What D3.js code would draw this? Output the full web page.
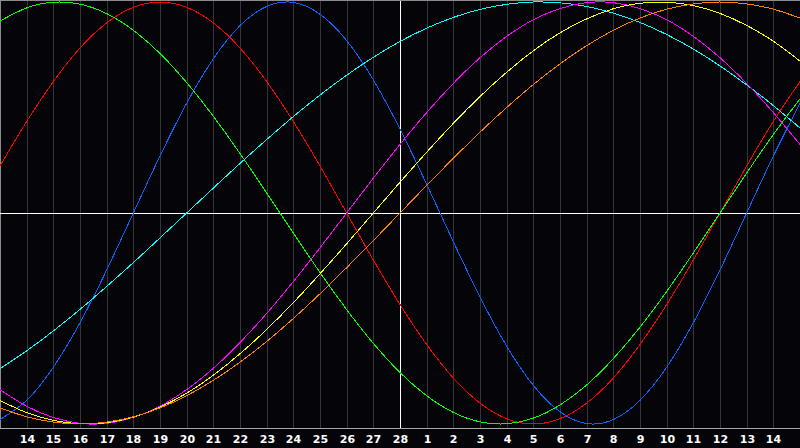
<!DOCTYPE html>
<meta charset="utf-8">
<title>Biorhythm</title>
<style>
    body { margin: 0; background: #050509; }
    svg { display: block; }
    .tick text {
        font: bold 11px "DejaVu Sans", sans-serif;
        fill: #fff;
    }
</style>

<svg width="800" height="448"></svg>
<script src="https://d3js.org/d3.v7.min.js"></script>
<script>

    // one step per day, step 0 = the 13th (left edge), step 30 = the 15th (right edge)
    var dayLabels = [14, 15, 16, 17, 18, 19, 20, 21, 22, 23, 24, 25, 26, 27, 28,
                     1, 2, 3, 4, 5, 6, 7, 8, 9, 10, 11, 12, 13, 14];
    var todayIndex = 15;   // the 28th

    // values in percent, read at each day line
    var physical     = [-97.9, -88.8, -73.1, -52.0, -27.0, 0, 27.0, 52.0, 73.1, 88.8, 97.9, 99.8, 94.2, 81.7, 63.1, 39.8, 13.6, -13.6, -39.8, -63.1, -81.7, -94.2, -99.8, -97.9, -88.8, -73.1, -52.0, -27.0, 0, 27.0, 52.0];
    var emotional    = [22.3, 43.4, 62.3, 78.2, 90.1, 97.5, 100, 97.5, 90.1, 78.2, 62.3, 43.4, 22.3, 0, -22.3, -43.4, -62.3, -78.2, -90.1, -97.5, -100, -97.5, -90.1, -78.2, -62.3, -43.4, -22.3, 0, 22.3, 43.4, 62.3];
    var intellectual = [91.0, 97.2, 99.9, 99.0, 94.5, 86.6, 75.6, 61.8, 45.8, 28.2, 9.5, -9.5, -28.2, -45.8, -61.8, -75.6, -86.6, -94.5, -99.0, -99.9, -97.2, -91.0, -81.5, -69.0, -54.1, -37.2, -18.9, 0, 18.9, 37.2, 54.1];
    var intuitive    = [-83.7, -91.6, -96.9, -99.7, -99.7, -96.9, -91.6, -83.7, -73.6, -61.4, -47.6, -32.5, -16.5, 0, 16.5, 32.5, 47.6, 61.4, 73.6, 83.7, 91.6, 96.9, 99.7, 99.7, 96.9, 91.6, 83.7, 73.6, 61.4, 47.6, 32.5];
    var aesthetic    = [-88.9, -94.6, -98.3, -99.9, -99.4, -96.8, -92.0, -85.4, -76.9, -66.7, -55.2, -42.5, -28.8, -14.6, 0, 14.6, 28.8, 42.5, 55.2, 66.7, 76.9, 85.4, 92.0, 96.8, 99.4, 99.9, 98.3, 94.6, 88.9, 81.4, 72.0];
    var awareness    = [-92.4, -96.6, -99.1, -100, -99.1, -96.6, -92.4, -86.6, -79.3, -70.7, -60.9, -50.0, -38.3, -25.9, -13.1, 0, 13.1, 25.9, 38.3, 50.0, 60.9, 70.7, 79.3, 86.6, 92.4, 96.6, 99.1, 100, 99.1, 96.6, 92.4];
    var spiritual    = [-73.8, -65.3, -55.9, -45.7, -34.8, -23.5, -11.8, 0, 11.8, 23.5, 34.8, 45.7, 55.9, 65.3, 73.8, 81.3, 87.6, 92.7, 96.5, 98.9, 100, 99.6, 97.9, 94.7, 90.3, 84.6, 77.7, 69.7, 60.7, 50.9, 40.3];

    var series = [
        {name: "physical", values: physical, color: "#0a64ff"},
        {name: "emotional", values: emotional, color: "#ff0000"},
        {name: "intellectual", values: intellectual, color: "#00ff00"},
        {name: "spiritual", values: spiritual, color: "#00ffff"},
        {name: "intuitive", values: intuitive, color: "#ff00ff"},
        {name: "aesthetic", values: aesthetic, color: "#ffff00"},
        {name: "awareness", values: awareness, color: "#ff8000"}
    ];

    var svg = d3.select("svg"),
        width = +svg.attr("width"),
        plotBottom = 428;

    var x = d3.scaleLinear().domain([0, 30]).range([0, width]);
    var y = d3.scaleLinear().domain([-100, 100]).range([424, 2]);

    var px = function(v) { return Math.round(v) + 0.5; };

    svg.append("rect")
        .attr("width", width)
        .attr("height", 448)
        .attr("fill", "#050509");

    // day lines + labels through an axis
    var ticks = d3.range(1, dayLabels.length + 1);
    var axis = d3.axisBottom(x)
        .tickValues(ticks)
        .tickSize(plotBottom)
        .tickPadding(7)
        .tickFormat(function(d) { return dayLabels[d - 1]; });

    var ax = svg.append("g").call(axis);
    ax.select(".domain").remove();
    ax.selectAll(".tick")
        .attr("transform", function(d) { return "translate(" + px(x(d)) + ",0)"; });
    ax.selectAll(".tick line")
        .attr("stroke", function(d) { return d === todayIndex ? "#ffffff" : "#36363a"; })
        .attr("shape-rendering", "crispEdges");

    // frame
    svg.append("path")
        .attr("d", "M0.5," + (plotBottom + 0.5) + "V0.5H" + width)
        .attr("fill", "none")
        .attr("stroke", "#8c8c8c")
        .attr("shape-rendering", "crispEdges");
    svg.append("line")
        .attr("x1", 0).attr("x2", width)
        .attr("y1", plotBottom + 0.5).attr("y2", plotBottom + 0.5)
        .attr("stroke", "#a8a8a8")
        .attr("shape-rendering", "crispEdges");

    // zero line
    svg.append("line")
        .attr("x1", 0).attr("x2", width)
        .attr("y1", px(y(0))).attr("y2", px(y(0)))
        .attr("stroke", "#ffffff")
        .attr("shape-rendering", "crispEdges");

    var line = d3.line()
        .x(function(d, i) { return x(i); })
        .y(function(d) { return y(d); })
        .curve(d3.curveNatural);

    svg.append("g").selectAll("path")
        .data(series)
        .enter().append("path")
            .attr("d", function(d) { return line(d.values); })
            .attr("fill", "none")
            .attr("stroke", function(d) { return d.color; })
            .attr("stroke-width", 1)
            .attr("shape-rendering", "crispEdges");

</script>
